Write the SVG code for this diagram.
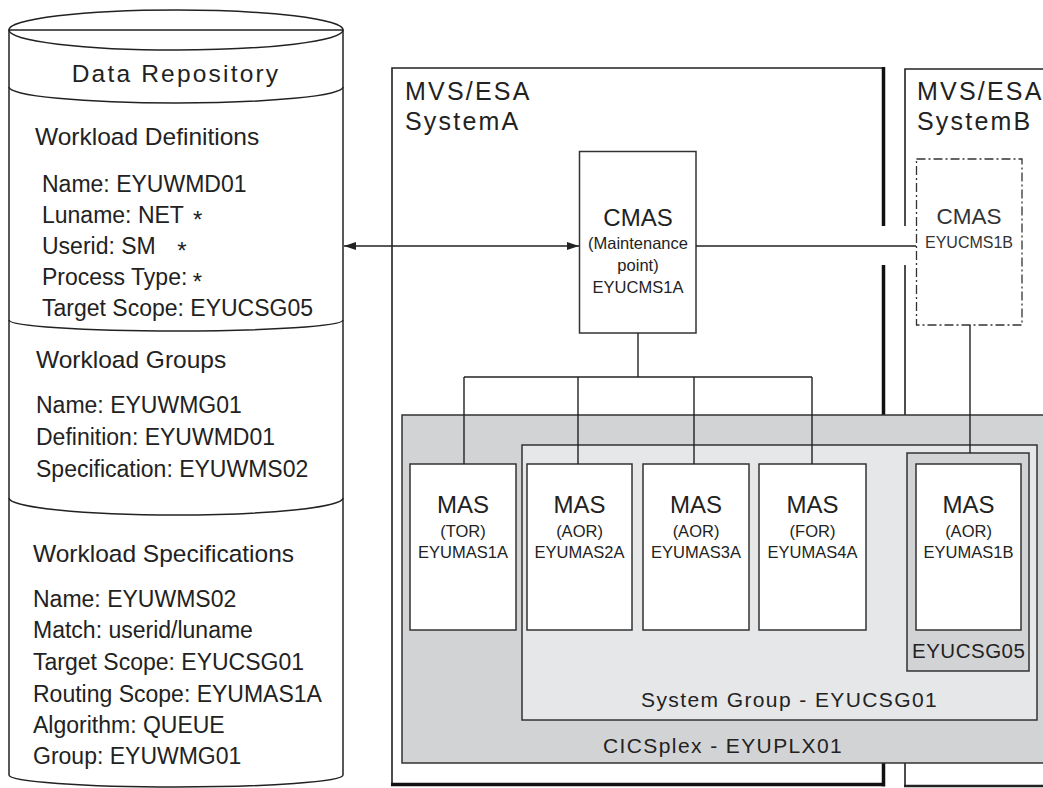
<svg xmlns="http://www.w3.org/2000/svg" width="1043" height="788" viewBox="0 0 1043 788">
<style>
text{font-family:"Liberation Sans",Arial,Helvetica,sans-serif;fill:#222}
.h{font-size:24.5px}
.b{font-size:23px}
.sp{font-size:24.5px;letter-spacing:2.2px}
.sys{font-size:25px;letter-spacing:2.2px}
.grp{font-size:21px;letter-spacing:1.4px}
.big{font-size:22.5px;text-anchor:middle}
.sm{font-size:16.5px;text-anchor:middle}
.ln{fill:none;stroke:#222;stroke-width:1.5}
.box{fill:#fff;stroke:#333;stroke-width:1.5}
.conn{fill:none;stroke:#222;stroke-width:1.4}
.ast{font-size:24px}
</style>
<defs>
<marker id="ah" markerWidth="13" markerHeight="9" refX="12" refY="4" orient="auto-start-reverse" markerUnits="userSpaceOnUse">
<path d="M0,0 L12,4 L0,8 z" fill="#222"/>
</marker>
</defs>

<g id="repository">
<path d="M9,30 L9,775 A167,12 0 0 0 343,775 L343,30 Z" fill="#fff" stroke="#222" stroke-width="1.5"/>
<ellipse cx="176" cy="30" rx="167" ry="20" class="ln"/>
<path class="ln" d="M9,87 A167,16 0 0 0 343,87"/>
<path class="ln" d="M9,320 A167,11 0 0 0 343,320"/>
<path class="ln" d="M9,498 A167,17 0 0 0 343,498"/>
<text class="sp" x="176" y="82" text-anchor="middle">Data Repository</text>
<text class="h" x="35" y="145">Workload Definitions</text>
<text class="b" x="42" y="192">Name: EYUWMD01</text>
<text class="b" x="42" y="223">Luname: NET <tspan class="ast" dx="3" dy="5">*</tspan></text>
<text class="b" x="42" y="254">Userid: SM <tspan class="ast" dx="15" dy="5">*</tspan></text>
<text class="b" x="42" y="285">Process Type: <tspan class="ast" dx="-1" dy="5">*</tspan></text>
<text class="b" x="42" y="316">Target Scope: EYUCSG05</text>
<text class="h" x="36" y="368">Workload Groups</text>
<text class="b" x="36" y="413">Name: EYUWMG01</text>
<text class="b" x="36" y="445">Definition: EYUWMD01</text>
<text class="b" x="36" y="477">Specification: EYUWMS02</text>
<text class="h" x="33" y="562">Workload Specifications</text>
<text class="b" x="33" y="607">Name: EYUWMS02</text>
<text class="b" x="33" y="638">Match: userid/luname</text>
<text class="b" x="33" y="670">Target Scope: EYUCSG01</text>
<text class="b" x="33" y="702">Routing Scope: EYUMAS1A</text>
<text class="b" x="33" y="733">Algorithm: QUEUE</text>
<text class="b" x="33" y="764">Group: EYUWMG01</text>
</g>

<g id="systemA">
<path d="M392,784 L392,68 L884,68" fill="none" stroke="#222" stroke-width="1.6"/>
<path d="M883.5,67 L883.5,226 M883.5,265 L883.5,786.5 M391,784.5 L885,784.5" fill="none" stroke="#111" stroke-width="3.5"/>
<text class="sys" x="405" y="100">MVS/ESA</text>
<text class="sys" x="405" y="130">SystemA</text>
</g>

<g id="systemB">
<path d="M1050,69 L905,69 L905,226 M905,265 L905,786" fill="none" stroke="#222" stroke-width="1.6"/>
<path d="M904,786 L1050,786" fill="none" stroke="#222" stroke-width="2.5"/>
<text class="sys" x="917" y="100">MVS/ESA</text>
<text class="sys" x="917" y="130">SystemB</text>
</g>

<g id="cicsplex">
<rect x="402" y="415" width="660" height="348" fill="#d2d3d5" stroke="#333" stroke-width="1.5"/>
<text class="grp" x="603" y="753">CICSplex - EYUPLX01</text>
</g>

<g id="systemGroup">
<rect x="522" y="445" width="515" height="275" fill="#e6e7e8" stroke="#333" stroke-width="1.5"/>
<text class="grp" x="641" y="707">System Group - EYUCSG01</text>
</g>

<g id="eyucsg05">
<rect x="907" y="453" width="122" height="218" fill="#d2d3d5" stroke="#333" stroke-width="1.5"/>
<text x="912" y="658" style="font-size:20.5px;letter-spacing:0.5px">EYUCSG05</text>
</g>

<g id="cmasA">
<rect x="579.5" y="151.5" width="116.5" height="181.5" class="box"/>
<text class="big" x="638" y="226" style="font-size:24px">CMAS</text>
<text class="sm" x="638" y="249">(Maintenance</text>
<text class="sm" x="638" y="271">point)</text>
<text class="sm" x="638" y="293">EYUCMS1A</text>
</g>

<g id="cmasB">
<rect x="916.5" y="159" width="105.5" height="166" fill="#fff" stroke="#333" stroke-width="1.3" stroke-dasharray="9,3,2,3"/>
<text class="big" x="969" y="224" style="fill:#333">CMAS</text>
<text class="sm" x="969" y="248" style="fill:#333;font-size:16px">EYUCMS1B</text>
</g>

<g id="mas1A">
<rect x="410" y="464" width="106" height="166" class="box"/>
<text class="big" x="463" y="513" style="font-size:24px">MAS</text>
<text class="sm" x="463" y="537">(TOR)</text>
<text class="sm" x="463" y="558">EYUMAS1A</text>
</g>
<g id="mas2A">
<rect x="527" y="464" width="105" height="166" class="box"/>
<text class="big" x="579.5" y="513" style="font-size:24px">MAS</text>
<text class="sm" x="579.5" y="537">(AOR)</text>
<text class="sm" x="579.5" y="558">EYUMAS2A</text>
</g>
<g id="mas3A">
<rect x="643" y="464" width="106" height="166" class="box"/>
<text class="big" x="696" y="513" style="font-size:24px">MAS</text>
<text class="sm" x="696" y="537">(AOR)</text>
<text class="sm" x="696" y="558">EYUMAS3A</text>
</g>
<g id="mas4A">
<rect x="759" y="464" width="107" height="166" class="box"/>
<text class="big" x="812.5" y="513" style="font-size:24px">MAS</text>
<text class="sm" x="812.5" y="537">(FOR)</text>
<text class="sm" x="812.5" y="558">EYUMAS4A</text>
</g>
<g id="mas1B">
<rect x="916" y="464" width="105" height="166" class="box"/>
<text class="big" x="968.5" y="513" style="font-size:24px">MAS</text>
<text class="sm" x="968.5" y="537">(AOR)</text>
<text class="sm" x="968.5" y="558">EYUMAS1B</text>
</g>

<g id="connectors">
<line class="conn" x1="344" y1="246" x2="579" y2="246" marker-start="url(#ah)" marker-end="url(#ah)"/>
<line class="conn" x1="696" y1="246" x2="916" y2="246"/>
<line class="conn" x1="638" y1="333" x2="638" y2="377"/>
<line class="conn" x1="464" y1="377" x2="812" y2="377"/>
<line class="conn" x1="464" y1="377" x2="464" y2="464"/>
<line class="conn" x1="578" y1="377" x2="578" y2="464"/>
<line class="conn" x1="694" y1="377" x2="694" y2="464"/>
<line class="conn" x1="812" y1="377" x2="812" y2="464"/>
<line class="conn" x1="970" y1="325" x2="970" y2="453"/>
</g>
</svg>
